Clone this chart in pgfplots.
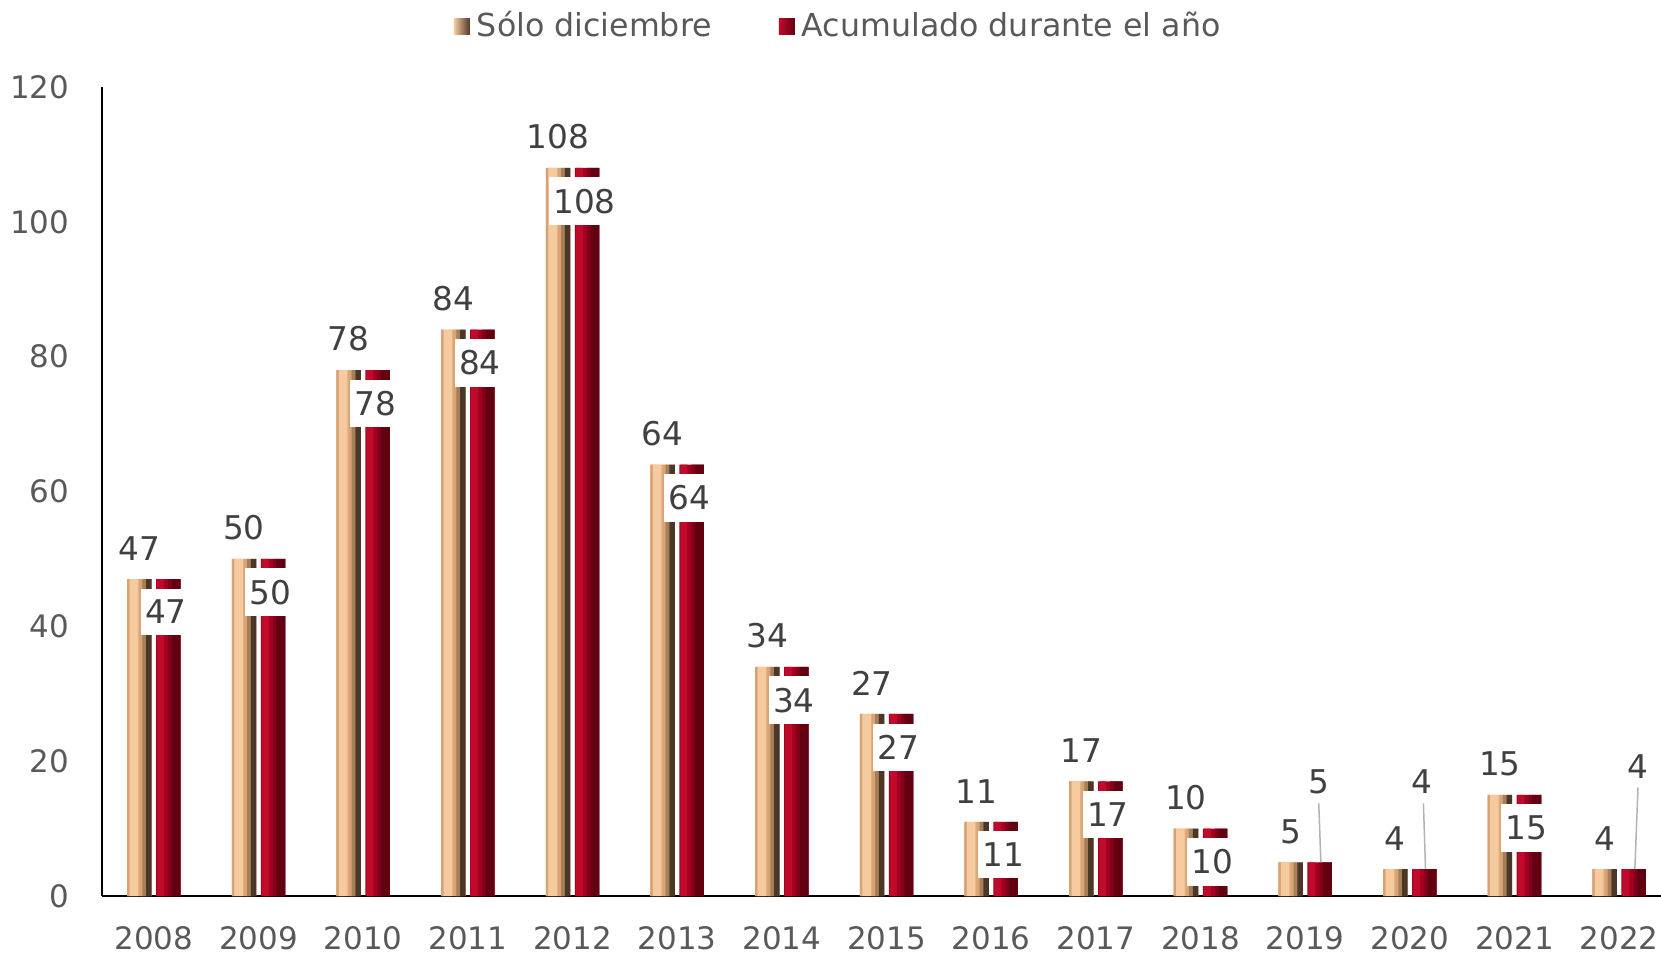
\documentclass[border=0pt]{standalone}
\usepackage{fontspec}
\setmainfont{DejaVu Sans}
\usepackage{pgfplots}
\usepackage{pgfplotstable}
\pgfplotsset{compat=1.18}

\definecolor{sandE}{HTML}{D8A274}
\definecolor{sandL}{HTML}{F5CA9E}
\definecolor{sandM}{HTML}{E4AE7E}
\definecolor{sandB}{HTML}{A67E58}
\definecolor{sandD}{HTML}{4B3727}
\definecolor{redL}{HTML}{C00A2C}
\definecolor{redM}{HTML}{A3001F}
\definecolor{redB}{HTML}{82001A}
\definecolor{redD}{HTML}{620012}
\definecolor{tickgray}{HTML}{595959}
\definecolor{labgray}{HTML}{404040}

% year index, Sólo diciembre, Acumulado durante el año
\pgfplotstableread{
x  dic  acu
0  47   47
1  50   50
2  78   78
3  84   84
4  108  108
5  64   64
6  34   34
7  27   27
8  11   11
9  17   17
10 10   10
11 5    5
12 4    4
13 15   15
14 4    4
}\datatab

\pgfplotsset{
  strip/.style 2 args={ybar, bar width=#1, bar shift=#2, draw=none, forget plot},
}
\tikzset{datalab/.style={font=\fontsize{9.3}{11}\selectfont, text=labgray}}

\begin{document}
\begin{tikzpicture}
\useasboundingbox (0,0) rectangle (166.1mm,95.4mm);
\begin{axis}[
  at={(10.15mm,5.8mm)}, anchor=south west,
  scale only axis, width=155.95mm, height=80.9mm,
  xmin=-0.5, xmax=14.4, ymin=0, ymax=120,
  clip=false,
  axis x line*=bottom, axis y line*=left,
  axis line style={black, line width=0.2mm, -},
  major tick length=0pt,
  xtick={0,...,14},
  xticklabels={2008,2009,2010,2011,2012,2013,2014,2015,2016,2017,2018,2019,2020,2021,2022},
  ytick={0,20,...,120},
  /pgf/number format/assume math mode=true,
  tick label style={font=\fontsize{8.8}{10}\selectfont, text=tickgray, inner sep=0pt},
  xticklabel style={anchor=north, yshift=-3mm},
  yticklabel style={anchor=east, xshift=-3.15mm},
  legend style={at={(0.474,1.0748)}, anchor=center, draw=none, fill=none,
    font=\fontsize{9}{11}\selectfont, text=tickgray,
    /tikz/every even column/.append style={column sep=6mm}},
  legend columns=2,
]
% Sólo diciembre: base bar plus bevel strips
\addplot[ybar, bar width=2.45mm, bar shift=-1.45mm, fill=sandM, draw=none,
  legend image code/.code={\path[left color=sandL, right color=sandD]
    (0mm,-0.8mm) rectangle (1.6mm,0.8mm);}]
  table[x=x, y=dic] {\datatab};
\addlegendentry{Sólo diciembre}
% Acumulado durante el año: base bar
\addplot[ybar, bar width=2.45mm, bar shift=1.45mm, fill=redM, draw=none,
  legend image code/.code={\path[left color=redL, right color=redD]
    (0mm,-0.8mm) rectangle (1.6mm,0.8mm);}]
  table[x=x, y=acu] {\datatab};
\addlegendentry{Acumulado durante el año}

\addplot[strip={0.25mm}{-2.55mm}, fill=sandE] table[x=x, y=dic] {\datatab};
\addplot[strip={0.85mm}{-2.0mm}, fill=sandL] table[x=x, y=dic] {\datatab};
\addplot[strip={0.4mm}{-1.25mm}, fill=sandM!80!sandB] table[x=x, y=dic] {\datatab};
\addplot[strip={0.4mm}{-0.95mm}, fill=sandB] table[x=x, y=dic] {\datatab};
\addplot[strip={0.55mm}{-0.5mm}, fill=sandD] table[x=x, y=dic] {\datatab};

\addplot[strip={0.7mm}{0.675mm}, fill=redL] table[x=x, y=acu] {\datatab};
\addplot[strip={0.35mm}{1.6mm}, fill=redB] table[x=x, y=acu] {\datatab};
\addplot[strip={0.9mm}{2.225mm}, fill=redD] table[x=x, y=acu] {\datatab};

% labels of the first series above the bars
\addplot[draw=none, mark=none, forget plot, nodes near coords,
  every node near coord/.append style={anchor=south, yshift=1.8mm, xshift=-1.45mm,
    inner sep=0pt, datalab}]
  table[x=x, y=dic] {\datatab};

% labels of the second series inside the bars
\addplot[draw=none, mark=none, forget plot, nodes near coords, point meta=explicit symbolic,
  every node near coord/.append style={anchor=north, yshift=-0.88mm, xshift=1.2mm,
    fill=white, inner xsep=0.45mm, inner ysep=1.15mm, datalab}]
  coordinates {(0,47)[47] (1,50)[50] (2,78)[78] (3,84)[84] (4,108)[108] (5,64)[64]
    (6,34)[34] (7,27)[27] (8,11)[11] (9,17)[17] (10,10)[10] (13,15)[15]};

% small bars: label above with a leader line
\addplot[gray!60, line width=0.15mm, forget plot] coordinates {(11.13,13.75) (11.15,5)};
\addplot[gray!60, line width=0.15mm, forget plot] coordinates {(12.13,13.75) (12.15,4)};
\addplot[gray!60, line width=0.15mm, forget plot] coordinates {(14.18,16.1) (14.15,4)};
\addplot[draw=none, mark=none, forget plot, nodes near coords, point meta=explicit symbolic,
  every node near coord/.append style={anchor=center, inner sep=0pt, datalab}]
  coordinates {(11.13,16.95)[5] (12.12,16.95)[4] (14.18,19.18)[4]};
\end{axis}
\end{tikzpicture}
\end{document}
